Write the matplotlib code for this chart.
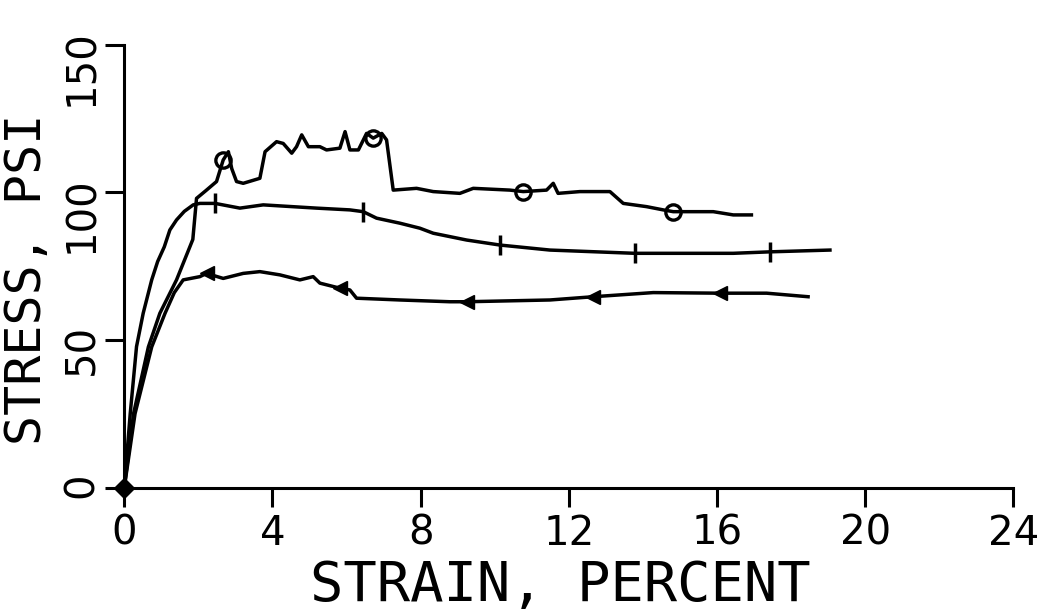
import matplotlib
matplotlib.use("Agg")
import matplotlib.pyplot as plt

# stress-strain traces (strain %, stress psi)
circ_x = [0, 0.25, 0.65, 0.96, 1.41, 1.77, 1.85, 1.95, 2.2, 2.49, 2.67, 2.81, 2.9, 3.03,
          3.21, 3.66, 3.80, 4.11, 4.29, 4.52, 4.65, 4.79, 4.97, 5.28, 5.46, 5.82, 5.96,
          6.09, 6.32, 6.54, 6.72, 6.95, 7.08, 7.26, 7.89, 8.34, 9.06, 9.42, 10.41, 10.77,
          11.40, 11.58, 11.71, 12.30, 13.11, 13.47, 14.10, 14.55, 14.82, 15.90, 16.44, 16.93]
circ_y = [0, 25, 47.6, 59, 70.3, 81.5, 84, 97.9, 100.5, 103.6, 110.9, 113.7, 108, 103.6,
          103, 104.7, 113.7, 117.1, 116.5, 113.2, 115.4, 119.4, 115.4, 115.4, 114.3, 114.9, 120.5,
          114.3, 114.3, 119.9, 118.3, 119.9, 117.7, 100.7, 101.3, 100.2, 99.6, 101.3, 100.7, 100.2,
          100.7, 103.0, 99.6, 100.2, 100.2, 96.2, 95.1, 94.0, 93.4, 93.4, 92.3, 92.3]

plus_x = [0, 0.16, 0.33, 0.51, 0.74, 0.9, 1.08, 1.23, 1.41, 1.62, 1.86, 2.04, 2.45, 3.12,
          3.75, 5.19, 6.09, 6.45, 6.81, 7.44, 7.98, 8.34, 9.24, 10.14, 11.49, 13.78, 16.44,
          17.43, 19.05]
plus_y = [0, 25, 47.7, 59, 70.3, 76.5, 81.5, 87.2, 90.6, 93.5, 95.7, 96.2, 96.2, 94.6,
          95.7, 94.6, 94.0, 93.4, 91.2, 89.5, 87.8, 86.1, 83.8, 82.1, 80.4, 79.3, 79.3,
          79.8, 80.4]

tri_x = [0, 0.29, 0.74, 1.10, 1.35, 1.59, 2.04, 2.22, 2.67, 3.21, 3.66, 4.20, 4.74, 5.10,
         5.28, 5.82, 6.09, 6.27, 7.44, 8.79, 9.24, 11.49, 12.66, 14.28, 16.08, 17.34, 18.46]
tri_y = [0, 25, 47.6, 59, 66, 70.3, 71.4, 72.5, 70.8, 72.5, 73.1, 72.0, 70.3, 71.4,
         69.2, 67.5, 66.9, 64.1, 63.5, 62.9, 62.9, 63.5, 64.6, 66.0, 65.8, 65.8, 64.6]

# symbol positions along each trace
circ_mx = [2.67, 6.72, 10.77, 14.82]
circ_my = [110.9, 118.3, 100.2, 93.4]
plus_mx = [2.45, 6.45, 10.14, 13.78, 17.43]
plus_my = [96.2, 93.4, 82.1, 79.3, 79.8]
tri_mx = [2.22, 5.82, 9.24, 12.66, 16.08]
tri_my = [72.5, 67.5, 62.9, 64.6, 65.8]

x_ticks = [0, 4, 8, 12, 16, 20, 24]
y_ticks = [0, 50, 100, 150]

plt.rcParams['font.family'] = ['DejaVu Sans']

fig = plt.figure(figsize=(10.41, 6.13), dpi=100)
ax = fig.add_axes([0.1194, 0.2047, 0.854, 0.7227])

ax.plot(circ_x, circ_y, color='black', lw=2.5)
ax.plot(plus_x, plus_y, color='black', lw=2.5)
ax.plot(tri_x, tri_y, color='black', lw=2.5)

ax.plot(circ_mx, circ_my, 'o', ms=11, mfc='none', mec='black', mew=2.4)
ax.plot(plus_mx, plus_my, '|', ms=14, mec='black', mew=2.5)
ax.plot(tri_mx, tri_my, '<', ms=10, color='black')
ax.plot([0], [0], 'D', ms=10, color='black', clip_on=False, zorder=5)

ax.set_xlim(0, 24)
ax.set_ylim(0, 150)
ax.set_xticks(x_ticks)
ax.set_yticks(y_ticks)
ax.spines['top'].set_visible(False)
ax.spines['right'].set_visible(False)
for s in ('left', 'bottom'):
    ax.spines[s].set_linewidth(2.2)
ax.tick_params(length=14, width=2.2, pad=5, labelsize=29, direction='out')
ax.tick_params(axis='y', pad=2, labelrotation=90)

fig.text(0.538, 0.0196, "STRAIN, PERCENT", fontsize=40, family='DejaVu Sans Mono',
         ha='center', va='baseline')
fig.text(0.026, 0.545, "STRESS, PSI", fontsize=36, family='DejaVu Sans Mono',
         rotation=90, ha='center', va='center')

fig.savefig("out.png", dpi=100)
